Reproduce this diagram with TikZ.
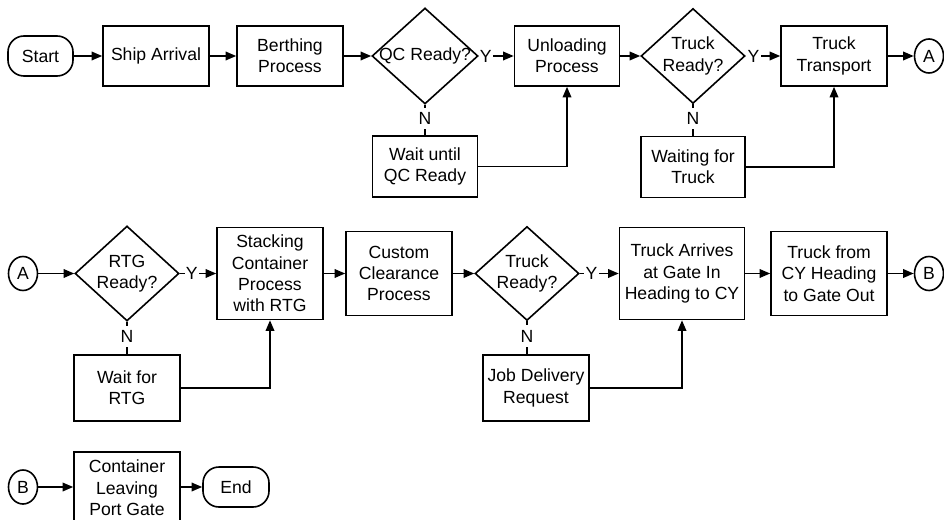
\documentclass[tikz,border=0pt]{standalone}
\usepackage{fontspec}
\setmainfont{Liberation Sans}
\usetikzlibrary{shapes.geometric,arrows.meta}

\begin{document}
\begin{tikzpicture}[x=0.75pt,y=-0.75pt,
  font=\fontsize{13.2}{16}\selectfont,
  line width=1.2pt,
  every label/.style={align=center,inner sep=0pt},
  box/.style 2 args={draw,rectangle,align=center,inner sep=0pt,
    minimum width=#1*0.75pt,minimum height=#2*0.75pt},
  terminal/.style 2 args={draw,rectangle,rounded corners=12pt,align=center,
    inner sep=0pt,minimum width=#1*0.75pt,minimum height=#2*0.75pt},
  decision/.style 2 args={draw,diamond,inner sep=0pt,
    minimum width=#1*0.75pt,minimum height=#2*0.75pt},
  link/.style={draw,ellipse,inner sep=0pt,minimum width=29*0.75pt,minimum height=34*0.75pt},
  flow/.style={-{Triangle[length=8pt,width=6.5pt]}},
  yes/.style={fill=white,inner sep=1pt},
  no/.style={fill=white,inner sep=1pt,minimum height=16pt}
]
\useasboundingbox (0,0) rectangle (944,520);
\clip (0,0) rectangle (944,520);

% ---- first row: ship arrival to truck transport
\node[terminal={65}{40}] (start) at (40.5,56) {Start};
\node[box={106}{60}] (ship) at (156,56) {Ship Arrival};
\node[box={106}{60}] (berth) at (290,56) {Berthing\\Process};
\node[decision={106}{96}, label=center:{QC Ready?}] (qc) at (425,56) {};
\node[box={105}{60}] (unload) at (567,56) {Unloading\\Process};
\node[decision={104}{95}, label=center:{Truck\\Ready?}] (truckA) at (693,56) {};
\node[box={106}{60}] (transport) at (834,56) {Truck\\Transport};
\node[link] (linkA1) at (929,56) {A};

\node[box={105}{61}] (waitqc) at (425,166.5) {Wait until\\QC Ready};
\node[box={104}{61}] (waittruck) at (693,167) {Waiting for\\Truck};

\draw[flow] (start) -- (ship);
\draw[flow] (ship) -- (berth);
\draw[flow] (berth) -- (qc);
\draw[flow] (qc.east) -- node[yes,pos=0.2] {Y} (unload.west);
\draw[flow] (unload) -- (truckA);
\draw[flow] (truckA.east) -- node[yes,pos=0.22] {Y} (transport.west);
\draw[flow] (transport) -- (linkA1);
\draw (qc.south) -- node[no,pos=0.45] {N} (waitqc.north);
\draw (truckA.south) -- node[no,pos=0.45] {N} (waittruck.north);
\draw[flow] (waitqc.east) -| (unload.south);
\draw[flow] (waittruck.east) -| (transport.south);

% ---- second row: stacking, clearance and gate in
\node[link] (linkA2) at (23,273.5) {A};
\node[decision={104}{95}, label=center:{RTG\\Ready?}] (rtg) at (127,273.5) {};
\node[box={106}{92}] (stack) at (270,273.5) {Stacking\\Container\\Process\\with RTG};
\node[box={106}{84}] (custom) at (399,273.5) {Custom\\Clearance\\Process};
\node[decision={104}{94}, label=center:{Truck\\Ready?}] (truckB) at (527,273.5) {};
\node[box={125}{92}] (gatein) at (682,273.5) {Truck Arrives\\at Gate In\\Heading to CY};
\node[box={116}{84}] (gateout) at (829,273.5) {Truck from\\CY Heading\\to Gate Out};
\node[link] (linkB1) at (929,273.5) {B};

\node[box={106}{66}] (waitrtg) at (127,388) {Wait for\\RTG};
\node[box={106}{66}] (jobreq) at (536,388) {Job Delivery\\Request};

\draw[flow] (linkA2) -- (rtg);
\draw[flow] (rtg.east) -- node[yes,pos=0.33] {Y} (stack.west);
\draw[flow] (stack) -- (custom);
\draw[flow] (custom) -- (truckB);
\draw[flow] (truckB.east) -- node[yes,pos=0.3] {Y} (gatein.west);
\draw[flow] (gatein) -- (gateout);
\draw[flow] (gateout) -- (linkB1);
\draw (rtg.south) -- node[no,pos=0.45] {N} (waitrtg.north);
\draw (truckB.south) -- node[no,pos=0.45] {N} (truckB.south |- jobreq.north);
\draw[flow] (waitrtg.east) -| (stack.south);
\draw[flow] (jobreq.east) -| (gatein.south);

% ---- third row: leaving the port
\node[link] (linkB2) at (23,487) {B};
\node[box={106}{72}] (leave) at (127,488) {Container\\Leaving\\Port Gate};
\node[terminal={66}{40}] (finish) at (236,487) {End};

\draw[flow] (linkB2) -- (linkB2 -| leave.west);
\draw[flow] (leave.east |- finish) -- (finish);
\end{tikzpicture}
\end{document}
